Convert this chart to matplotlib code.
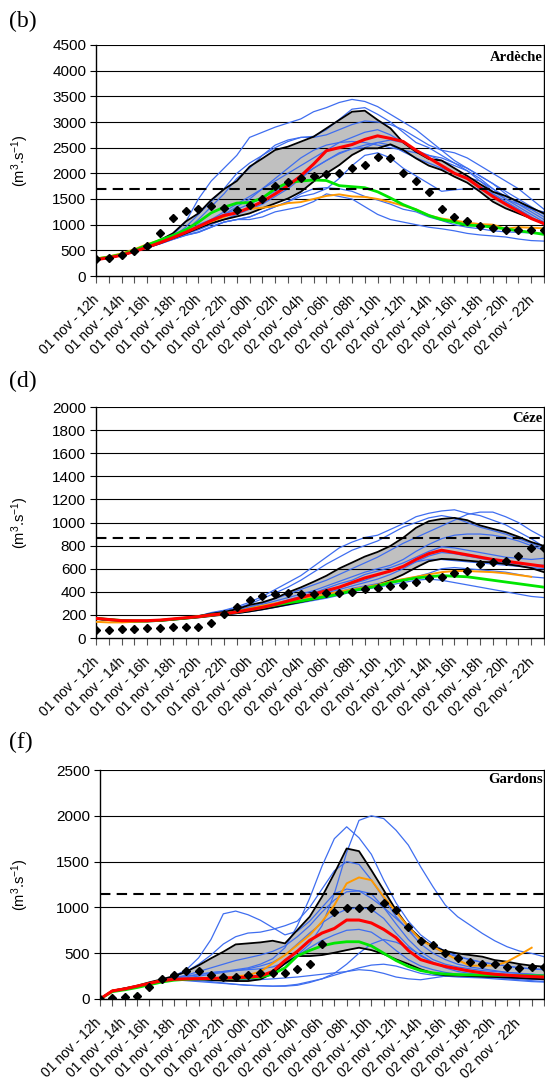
import numpy as np
import matplotlib
matplotlib.use("Agg")
import matplotlib.pyplot as plt
import matplotlib.transforms as mtransforms
from matplotlib.ticker import MultipleLocator, FixedLocator

plt.rcParams['font.family'] = ['Liberation Sans', 'DejaVu Sans']
plt.rcParams['mathtext.fontset'] = 'custom'
plt.rcParams['mathtext.rm'] = 'Liberation Sans'
plt.rcParams['mathtext.it'] = 'Liberation Sans:italic'
plt.rcParams['mathtext.bf'] = 'Liberation Sans:bold'

nan = np.nan

time_labels = ['01 nov - 12h', '01 nov - 14h', '01 nov - 16h', '01 nov - 18h', '01 nov - 20h',
               '01 nov - 22h', '02 nov - 00h', '02 nov - 02h', '02 nov - 04h', '02 nov - 06h',
               '02 nov - 08h', '02 nov - 10h', '02 nov - 12h', '02 nov - 14h', '02 nov - 16h',
               '02 nov - 18h', '02 nov - 20h', '02 nov - 22h']

# ---------------- (b) Ardèche ----------------
ard_obs = [325, 357, 403, 487, 584, 844, 1123, 1266, 1299, 1364, 1325, 1292, 1390, 1500, 1747, 1838, 1903, 1948,
           1987, 2000, 2098, 2162, 2325, 2305, 2007, 1844, 1643, 1299, 1143, 1071, 974, 935, 896, 896, 896, 896]
ard_upper = [330, 365, 415, 490, 580, 700, 830, 1060, 1220, 1480, 1690, 1850, 2130, 2290, 2455, 2520, 2617, 2714,
             2877, 3039, 3200, 3220, 3040, 2877, 2600, 2420, 2280, 2250, 2100, 1950, 1790, 1640, 1560, 1450, 1330, 1220]
ard_lower = [320, 355, 405, 475, 555, 640, 735, 830, 930, 1030, 1100, 1160, 1220, 1320, 1415, 1510, 1640, 1840,
             2000, 2160, 2357, 2487, 2487, 2565, 2455, 2292, 2150, 2065, 1935, 1818, 1643, 1448, 1318, 1220, 1123, 1026]
ard_red = [320, 355, 405, 478, 560, 650, 745, 850, 960, 1080, 1180, 1230, 1330, 1450, 1600, 1760, 1950, 2180,
           2440, 2500, 2560, 2660, 2730, 2680, 2620, 2450, 2300, 2150, 2000, 1900, 1720, 1550, 1400, 1260, 1120, 1020]
ard_green = [330, 370, 420, 500, 600, 700, 790, 900, 1050, 1230, 1340, 1420, 1430, 1520, 1700, 1820, 1850, 1870,
             1860, 1760, 1740, 1720, 1640, 1520, 1390, 1290, 1180, 1100, 1050, 990, 980, 950, 920, 880, 850, 810]
ard_orange = [340, 380, 440, 520, 620, 700, 780, 860, 960, 1060, 1150, 1250, 1310, 1330, 1360, 1420, 1440, 1500,
              1560, 1590, 1550, 1540, 1500, 1440, 1370, 1300, 1180, 1120, 1080, 1040, 1010, 1000, 920, 950, 940, 930]
ard_members = [
    [322, 357, 407, 478, 560, 660, 800, 1050, 1500, 1850, 2100, 2350, 2700, 2800, 2900, 2980, 3060, 3200, 3280, 3380,
     3440, 3400, 3300, 3150, 3000, 2850, 2650, 2450, 2250, 2100, 1950, 1800, 1650, 1500, 1350, 1200],
    [320, 355, 405, 478, 560, 650, 760, 950, 1200, 1450, 1700, 2000, 2200, 2350, 2500, 2620, 2700, 2720, 2850, 3050,
     3250, 3280, 3150, 3000, 2800, 2600, 2500, 2350, 2200, 2050, 1850, 1700, 1550, 1450, 1300, 1150],
    [320, 355, 405, 476, 558, 645, 745, 880, 1100, 1350, 1600, 1900, 2100, 2350, 2550, 2650, 2700, 2700, 2750, 2850,
     2950, 3020, 3000, 2950, 2850, 2700, 2550, 2450, 2400, 2300, 2150, 2000, 1850, 1700, 1500, 1300],
    [320, 355, 404, 475, 556, 640, 740, 840, 950, 1100, 1250, 1400, 1550, 1700, 1850, 2000, 2150, 2300, 2450, 2600,
     2700, 2800, 2850, 2750, 2600, 2450, 2350, 2250, 2150, 2050, 1900, 1700, 1500, 1350, 1200, 1050],
    [320, 354, 403, 474, 554, 637, 730, 820, 900, 1000, 1100, 1200, 1300, 1400, 1550, 1700, 1900, 2100, 2250, 2400,
     2480, 2500, 2600, 2650, 2600, 2450, 2300, 2150, 2000, 1900, 1750, 1600, 1450, 1300, 1150, 1000],
    [318, 352, 400, 470, 550, 630, 720, 800, 850, 950, 1050, 1100, 1150, 1250, 1350, 1450, 1550, 1600, 1700, 1900,
     2150, 2350, 2400, 2300, 2100, 1950, 1800, 1650, 1680, 1700, 1700, 1600, 1450, 1300, 1150, 1000],
    [318, 352, 400, 470, 548, 625, 710, 790, 850, 950, 1050, 1100, 1100, 1150, 1250, 1300, 1350, 1450, 1600, 1550,
     1500, 1350, 1200, 1100, 1050, 1000, 950, 920, 880, 830, 800, 780, 760, 720, 690, 680],
    [318, 352, 400, 470, 550, 628, 715, 795, 860, 960, 1050, 1100, 1150, 1250, 1350, 1450, 1600, 1700, 1720, 1700,
     1650, 1550, 1480, 1400, 1300, 1250, 1150, 1080, 1000, 950, 920, 880, 860, 850, 840, 830],
    [320, 355, 405, 477, 560, 648, 745, 850, 1000, 1100, 1200, 1300, 1400, 1520, 1650, 1800, 1950, 2100, 2250, 2380,
     2480, 2550, 2600, 2550, 2420, 2300, 2200, 2100, 2000, 1920, 1850, 1650, 1500, 1400, 1300, 1250],
    [320, 355, 405, 477, 558, 645, 740, 840, 960, 1080, 1200, 1350, 1500, 1700, 1900, 2100, 2300, 2450, 2550, 2600,
     2620, 2600, 2550, 2500, 2450, 2400, 2350, 2300, 2200, 2100, 1950, 1800, 1600, 1400, 1250, 1100],
]
ard_threshold = 1700

# ---------------- (d) Cèze ----------------
cez_obs = [66, 69, 74, 77, 83, 86, 92, 92, 97, 132, 206, 269, 327, 367, 381, 390, 381, 378, 387, 390, 401, 424,
           430, 447, 458, 484, 519, 527, 567, 582, 639, 656, 668, 713, 782, 782]
cez_upper = [172, 162, 152, 148, 148, 152, 162, 172, 190, 210, 225, 250, 286, 309, 344, 395, 438, 487, 539, 602,
             653, 705, 745, 797, 868, 954, 1011, 1031, 1040, 1020, 975, 945, 917, 877, 831, 797]
cez_lower = [165, 155, 148, 143, 143, 148, 158, 168, 178, 190, 203, 215, 230, 248, 268, 290, 312, 335, 358, 382,
             410, 430, 460, 500, 550, 610, 665, 685, 680, 670, 660, 655, 640, 625, 605, 570]
cez_red = [170, 160, 150, 150, 150, 155, 165, 175, 185, 200, 210, 225, 245, 265, 290, 320, 350, 380, 410, 440,
           480, 520, 550, 580, 620, 680, 730, 760, 740, 720, 700, 680, 665, 650, 635, 620]
cez_green = [170, 160, 152, 148, 148, 152, 162, 172, 185, 200, 210, 225, 245, 265, 285, 305, 320, 340, 360, 380,
             410, 430, 450, 480, 500, 520, 530, 540, 535, 530, 515, 500, 485, 470, 455, 440]
cez_orange = [140, 135, 135, 140, 145, 155, 165, 175, 185, 195, 210, 230, 255, 280, 300, 320, 340, 360, 380, 400,
              420, 440, 460, 490, 510, 530, 550, 570, 580, 580, 575, 570, 560, 545, 530, nan]
cez_members = [
    [175, 165, 155, 150, 150, 155, 165, 175, 190, 220, 240, 270, 310, 360, 420, 480, 540, 620, 700, 780,
     830, 870, 890, 940, 990, 1050, 1080, 1100, 1110, 1080, 1060, 1020, 980, 920, 860, 790],
    [170, 160, 152, 148, 148, 152, 162, 172, 185, 215, 235, 260, 295, 340, 390, 440, 500, 570, 640, 700,
     760, 800, 840, 900, 960, 1000, 1040, 1060, 1040, 1000, 960, 930, 900, 860, 820, 780],
    [165, 155, 150, 145, 145, 150, 160, 170, 185, 205, 220, 240, 270, 300, 340, 380, 420, 460, 500, 550,
     600, 650, 700, 760, 820, 870, 920, 970, 1020, 1070, 1090, 1090, 1050, 1000, 930, 870],
    [165, 155, 150, 145, 145, 150, 160, 170, 180, 195, 215, 235, 260, 290, 320, 350, 380, 410, 450, 490,
     530, 570, 600, 630, 680, 750, 810, 860, 890, 900, 900, 890, 870, 840, 800, 760],
    [165, 155, 150, 145, 145, 150, 160, 170, 180, 195, 210, 225, 245, 270, 300, 330, 360, 390, 430, 470,
     500, 550, 580, 610, 650, 700, 750, 790, 780, 760, 740, 720, 700, 690, 680, 690],
    [165, 155, 150, 145, 145, 150, 160, 170, 180, 195, 205, 220, 240, 260, 285, 310, 340, 370, 400, 435,
     470, 500, 540, 580, 620, 660, 680, 680, 670, 660, 650, 640, 630, 620, 610, 600],
    [165, 155, 150, 145, 145, 150, 160, 170, 180, 195, 205, 218, 235, 255, 275, 300, 325, 350, 375, 400,
     430, 450, 470, 490, 510, 530, 560, 600, 610, 600, 590, 580, 570, 550, 530, 520],
    [165, 155, 150, 145, 145, 150, 160, 170, 180, 195, 200, 212, 228, 245, 265, 285, 305, 325, 345, 370,
     400, 420, 440, 460, 480, 500, 510, 500, 480, 460, 440, 420, 400, 380, 360, 350],
    [165, 155, 150, 145, 145, 150, 160, 170, 180, 195, 208, 222, 240, 262, 285, 310, 335, 360, 390, 420,
     450, 480, 510, 550, 600, 660, 710, 740, 730, 710, 690, 670, 650, 640, 630, 630],
]
cez_threshold = 870

# ---------------- (f) Gardons ----------------
gar_obs = [0, 11, 18, 36, 127, 215, 258, 305, 305, 258, 240, 240, 258, 280, 280, 284, 331, 382, 596, 945,
           996, 993, 996, 1051, 971, 789, 633, 589, 498, 444, 407, 378, 378, 353, 338, 345, 353]
gar_upper = [0, 91, 116, 145, 182, 215, 251, 298, 367, 444, 516, 596, 607, 618, 636, 607, 753, 898, 1116, 1371,
             1643, 1614, 1407, 1189, 971, 789, 662, 571, 524, 498, 480, 462, 425, 407, 382, 364, 353]
gar_lower = [0, 90, 116, 140, 171, 200, 215, 215, 215, 207, 200, 196, 196, 215, 280, 389, 469, 469, 480, 505,
             534, 560, 534, 491, 433, 382, 324, 280, 258, 255, 251, 244, 240, 236, 229, 222, 215]
gar_red = [0, 88, 110, 140, 170, 200, 215, 220, 222, 225, 228, 232, 240, 250, 300, 420, 520, 640, 720, 770,
           862, 862, 830, 760, 670, 530, 430, 390, 355, 330, 305, 285, 270, 260, 252, 245, 240]
gar_green = [0, 80, 100, 125, 155, 185, 205, 215, 220, 222, 224, 226, 230, 240, 270, 340, 470, 530, 580, 610,
             625, 625, 580, 500, 420, 355, 310, 285, 272, 267, 264, 262, 260, 258, 256, 255, 253]
gar_orange = [0, 92, 112, 142, 172, 202, 215, 215, 220, 225, 232, 245, 262, 298, 389, 480, 589, 698, 844, 1025,
              1262, 1327, 1298, 1116, 953, 789, 644, 571, 498, 425, 364, 364, 364, 407, 480, 560, nan]
gar_members = [
    [0, 88, 112, 142, 172, 205, 230, 250, 270, 290, 300, 310, 320, 330, 350, 400, 480, 600, 800, 1150,
     1600, 1950, 2000, 1970, 1843, 1680, 1443, 1225, 1025, 898, 807, 716, 636, 571, 524, 498, 462],
    [0, 88, 112, 142, 172, 205, 225, 245, 265, 285, 300, 320, 340, 380, 440, 560, 800, 1100, 1450, 1750,
     1880, 1760, 1580, 1300, 1050, 850, 700, 600, 520, 470, 430, 400, 380, 360, 340, 330, 320],
    [0, 88, 112, 142, 172, 210, 250, 320, 450, 650, 930, 960, 920, 860, 780, 700, 740, 850, 1000, 1150,
     1200, 1180, 1100, 1000, 880, 760, 650, 560, 500, 460, 430, 400, 380, 360, 340, 330, 320],
    [0, 88, 112, 142, 172, 208, 240, 300, 380, 480, 600, 680, 720, 730, 760, 800, 850, 1000, 1200, 1400,
     1500, 1470, 1300, 1100, 900, 750, 600, 500, 430, 380, 350, 330, 310, 290, 280, 270, 260],
    [0, 88, 112, 142, 172, 205, 230, 260, 300, 340, 380, 420, 450, 480, 520, 580, 680, 800, 950, 1080,
     1170, 1180, 1150, 1000, 820, 650, 520, 430, 380, 350, 330, 310, 300, 290, 280, 270, 260],
    [0, 88, 112, 142, 172, 205, 220, 230, 250, 270, 290, 310, 330, 360, 400, 480, 600, 720, 830, 920,
     980, 1000, 980, 880, 720, 580, 470, 400, 350, 320, 300, 290, 280, 270, 260, 250, 240],
    [0, 88, 112, 142, 172, 205, 215, 220, 225, 228, 232, 236, 240, 260, 300, 380, 470, 560, 640, 700,
     750, 760, 730, 640, 530, 430, 360, 320, 290, 270, 260, 250, 245, 240, 235, 230, 225],
    [0, 88, 112, 142, 172, 205, 210, 205, 200, 190, 175, 160, 150, 145, 140, 140, 150, 180, 220, 280,
     380, 500, 600, 650, 620, 560, 480, 400, 340, 300, 280, 260, 240, 220, 210, 200, 190],
    [0, 88, 112, 142, 172, 205, 210, 200, 190, 180, 170, 160, 150, 145, 140, 145, 160, 190, 220, 260,
     300, 340, 370, 380, 360, 320, 280, 260, 250, 240, 235, 230, 220, 210, 200, 190, 185],
    [0, 88, 112, 142, 172, 205, 215, 218, 220, 218, 215, 212, 210, 212, 220, 230, 240, 255, 270, 285,
     300, 320, 310, 280, 240, 220, 210, 230, 250, 260, 250, 240, 230, 225, 220, 215, 210],
]
gar_threshold = 1150

# ---------------- drawing ----------------
W, H = 545, 1084
fig = plt.figure(figsize=(W / 100, H / 100), dpi=100)
SERIF = 'Liberation Serif'
BLUE = '#3F6EF0'

panels = [
    dict(letter='(b)', name='Ardèche', box=(96, 45, 544, 276), ymax=4500, ystep=500,
         obs=ard_obs, up=ard_upper, lo=ard_lower, red=ard_red, green=ard_green, orange=ard_orange,
         members=ard_members, thr=ard_threshold, letter_y=11, name_y=0.948, dx=-4),
    dict(letter='(d)', name='Céze', box=(96, 407, 544, 638), ymax=2000, ystep=200,
         obs=cez_obs, up=cez_upper, lo=cez_lower, red=cez_red, green=cez_green, orange=cez_orange,
         members=cez_members, thr=cez_threshold, letter_y=371, name_y=0.952, dx=-4),
    dict(letter='(f)', name='Gardons', box=(100, 770, 544, 999), ymax=2500, ystep=500,
         obs=gar_obs, up=gar_upper, lo=gar_lower, red=gar_red, green=gar_green, orange=gar_orange,
         members=gar_members, thr=gar_threshold, letter_y=732, name_y=0.96, dx=-6),
]

for p in panels:
    x0, y0, x1, y1 = p['box']
    ax = fig.add_axes([x0 / W, 1 - y1 / H, (x1 - x0) / W, (y1 - y0) / H])
    n = len(p['obs'])
    x = np.arange(n)
    ax.set_xlim(0, n - 1)
    ax.set_ylim(0, p['ymax'])

    for yv in np.arange(p['ystep'], p['ymax'] + 1, p['ystep']):
        ax.axhline(yv, color='black', lw=0.8, zorder=1.5)

    ax.fill_between(x, p['lo'], p['up'], color='#C0C0C0', lw=0, zorder=1)
    for m in p['members']:
        ax.plot(x, m, color=BLUE, lw=0.9, zorder=2)
    ax.plot(x, p['up'], color='black', lw=1.3, zorder=3)
    ax.plot(x, p['lo'], color='black', lw=1.3, zorder=3)
    ax.plot(x, p['orange'], color='#FF9900', lw=1.4, zorder=4)
    ax.plot(x, p['green'], color='#00E600', lw=2.0, zorder=4)
    ax.plot(x, p['red'], color='#FF0000', lw=2.2, zorder=5)
    ax.axhline(p['thr'], color='black', lw=1.5, ls=(0, (5, 3)), zorder=5)
    ax.plot(x, p['obs'], ls='none', marker='D', ms=3.6, color='black', zorder=6)

    ax.spines['top'].set_visible(False)
    for s in ('left', 'bottom', 'right'):
        ax.spines[s].set_color('black')
        ax.spines[s].set_linewidth(1.0)

    ax.yaxis.set_major_locator(MultipleLocator(p['ystep']))
    ax.tick_params(axis='y', direction='out', length=4, width=0.8, pad=3, labelsize=11)

    ax.xaxis.set_major_locator(FixedLocator(np.arange(0, 2 * len(time_labels), 2)))
    ax.xaxis.set_minor_locator(FixedLocator(np.arange(0, n)))
    ax.tick_params(axis='x', which='both', direction='out', length=5, width=0.8, color='#555555', pad=7)
    ax.set_xticklabels(time_labels, rotation=45, ha='right', va='top', rotation_mode='anchor',
                       fontsize=10)
    off = mtransforms.ScaledTranslation(p['dx'] / 100, 0, fig.dpi_scale_trans)
    for lab in ax.get_xticklabels():
        lab.set_transform(lab.get_transform() + off)

    ax.text(0.997, p['name_y'], p['name'], transform=ax.transAxes, ha='right', va='center',
            fontsize=10.5, fontweight='bold', fontfamily=SERIF, zorder=7)

    fig.text(9 / W, 1 - p['letter_y'] / H, p['letter'], ha='left', va='top',
             fontsize=17, fontfamily=SERIF)
    fig.text(20 / W, 1 - ((y0 + y1) / 2) / H, r'(m$^{3}$.s$^{-1}$)', rotation=90,
             ha='center', va='center', fontsize=10.5)

fig.savefig('out.png', dpi=100)
